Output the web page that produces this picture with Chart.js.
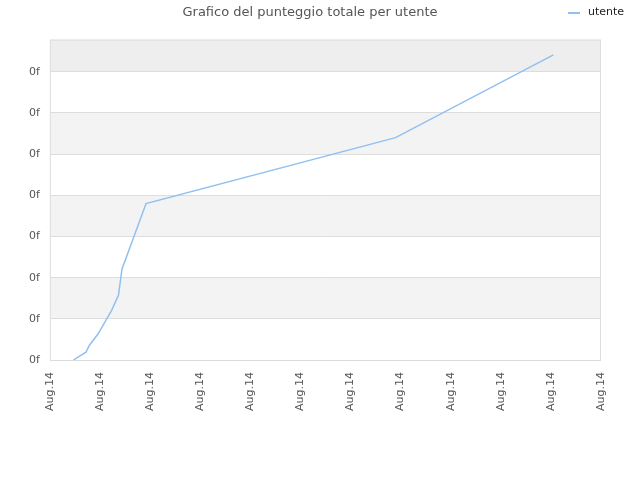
<!DOCTYPE html>
<html>
<head>
<meta charset="utf-8">
<script src="https://cdn.jsdelivr.net/npm/chart.js@4/dist/chart.umd.min.js"></script>
<style>
  html, body { margin: 0; padding: 0; background: #fff; }
  #wrap { width: 640px; height: 480px; }
</style>
</head>
<body>
<div id="wrap"><canvas id="c"></canvas></div>
<script>
const titleText = 'Grafico del punteggio totale per utente';
const seriesName = 'utente';
const xTickLabel = 'Aug.14';
const yTickLabel = '0f';
// points (x in tick units, y in gridline units)
const xVals = [0.47, 0.72, 0.79, 0.96, 1.23, 1.37, 1.44, 1.92, 6.9, 10.05];
const yVals = [0.0, 0.19, 0.36, 0.63, 1.20, 1.58, 2.21, 3.80, 5.40, 7.41];
const xMax = 11;
const yMax = 7.78;

const points = xVals.map((x, i) => ({ x: x, y: yVals[i] }));

// alternating horizontal bands + plot frame
const bands = {
    id: 'bands',
    beforeDraw(chart) {
        const { ctx, chartArea: a, scales: { y } } = chart;
        ctx.save();
        for (let v = 0; v < yMax; v++) {
            const top = y.getPixelForValue(Math.min(v + 1, yMax));
            const bot = y.getPixelForValue(v);
            if (v % 2 === 1) ctx.fillStyle = '#f3f3f3';
            else ctx.fillStyle = '#ffffff';
            if (v === 7) ctx.fillStyle = '#eeeeee';
            ctx.fillRect(a.left, top, a.right - a.left, bot - top);
        }
        ctx.strokeStyle = '#dddddd';
        ctx.lineWidth = 1;
        ctx.strokeRect(a.left + 0.5, a.top + 0.5, a.right - a.left - 1, a.bottom - a.top);
        ctx.restore();
    }
};

// legend sits on the title row at the right
const topLegend = {
    id: 'topLegend',
    afterDraw(chart) {
        const ctx = chart.ctx;
        ctx.save();
        ctx.strokeStyle = '#90c0f0';
        ctx.lineWidth = 2;
        ctx.beginPath();
        ctx.moveTo(568, 13);
        ctx.lineTo(580, 13);
        ctx.stroke();
        ctx.fillStyle = '#222';
        ctx.font = '11px "DejaVu Sans", sans-serif';
        ctx.textBaseline = 'middle';
        ctx.fillText(seriesName, 588, 12);
        ctx.restore();
    }
};

new Chart(document.getElementById('c'), {
    type: 'line',
    data: {
        datasets: [{
            label: seriesName,
            data: points,
            borderColor: '#90c0f0',
            backgroundColor: '#90c0f0',
            borderWidth: 1.5,
            pointRadius: 0,
            tension: 0,
        }]
    },
    options: {
        responsive: true,
        maintainAspectRatio: false,
        animation: false,
        layout: { padding: { left: 19, right: 39, top: 0, bottom: 57 } },
        plugins: {
            legend: { display: false },
            tooltip: { enabled: false },
            title: {
                display: true,
                text: titleText,
                color: '#555',
                font: { family: 'DejaVu Sans', size: 13, weight: 'normal' },
                padding: { top: 5, bottom: 19 }
            }
        },
        scales: {
            x: {
                type: 'linear',
                min: 0,
                max: xMax,
                grid: { display: false, drawTicks: false },
                border: { display: false },
                ticks: {
                    stepSize: 1,
                    minRotation: 90,
                    maxRotation: 90,
                    padding: 12,
                    color: '#555',
                    font: { family: 'DejaVu Sans', size: 11 },
                    callback: () => xTickLabel
                }
            },
            y: {
                min: 0,
                max: yMax,
                grid: { color: '#dddddd', drawTicks: false },
                border: { display: false },
                ticks: {
                    stepSize: 1,
                    includeBounds: false,
                    padding: 10,
                    color: '#555',
                    font: { family: 'DejaVu Sans', size: 11 },
                    callback: () => yTickLabel
                }
            }
        }
    },
    plugins: [bands, topLegend]
});
</script>
</body>
</html>
